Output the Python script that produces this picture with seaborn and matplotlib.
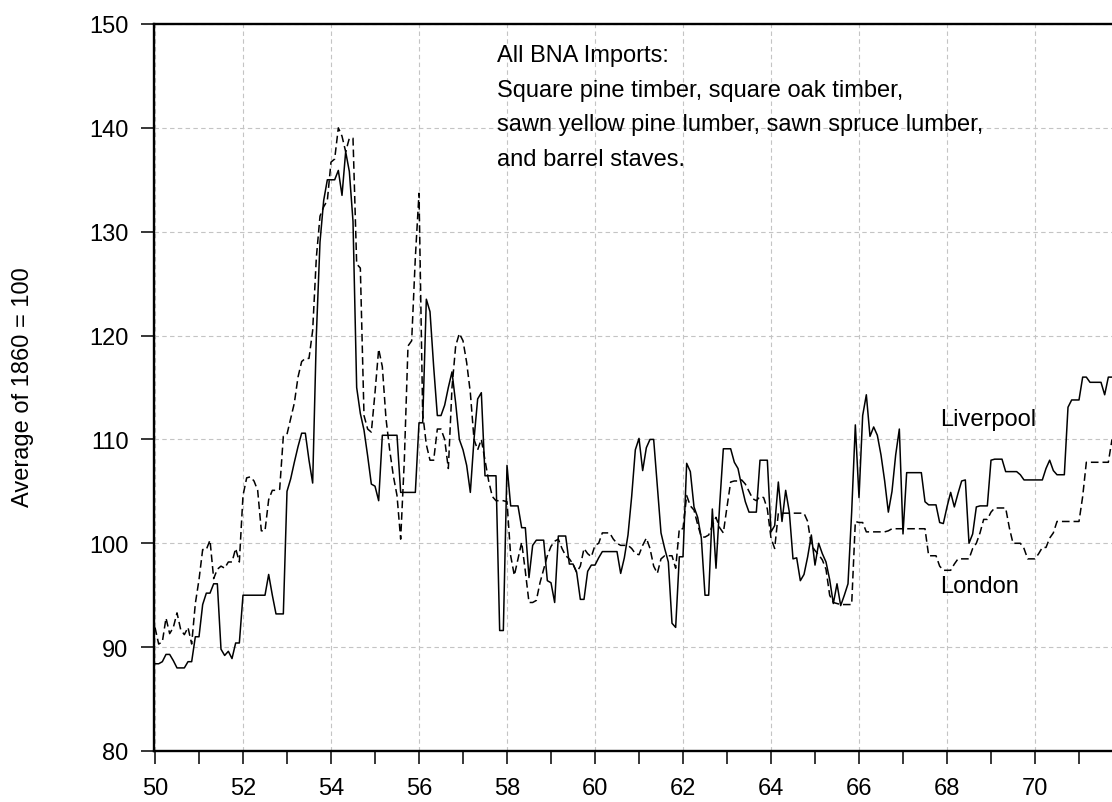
import numpy as np
import pandas as pd
import matplotlib
matplotlib.use("Agg")
import matplotlib.pyplot as plt
import seaborn as sns

# Monthly index values (average of 1860 = 100), Jan 1850 .. Oct 1871
liverpool = [
    88.4, 88.4, 88.6, 89.3, 89.3, 88.7, 88.0, 88.0, 88.0, 88.6, 88.6, 91.0,        # 1850
    91.0, 94.1, 95.2, 95.2, 96.1, 96.1, 89.8, 89.2, 89.6, 88.9, 90.4, 90.4,        # 1851
    95.0, 95.0, 95.0, 95.0, 95.0, 95.0, 95.0, 97.0, 95.0, 93.2, 93.2, 93.2,        # 1852
    105.0, 106.2, 107.8, 109.3, 110.6, 110.6, 108.0, 105.8, 120.0, 129.0, 133.0, 135.0,  # 1853
    135.0, 135.0, 135.9, 133.5, 137.7, 135.8, 131.0, 115.0, 112.5, 110.9, 108.4, 105.7,  # 1854
    105.5, 104.1, 110.4, 110.4, 110.4, 110.4, 110.4, 104.9, 104.9, 104.9, 104.9, 104.9,  # 1855
    111.6, 111.6, 123.5, 122.3, 117.0, 112.3, 112.3, 113.3, 115.0, 116.5, 113.5, 110.0,  # 1856
    109.0, 107.5, 104.9, 110.0, 113.9, 114.5, 106.5, 106.5, 106.5, 106.5, 91.6, 91.6,    # 1857
    107.5, 103.6, 103.6, 103.6, 101.5, 101.5, 96.7, 99.8, 100.3, 100.3, 100.3, 96.4,     # 1858
    96.2, 94.3, 100.7, 100.7, 100.7, 98.0, 98.0, 97.2, 94.6, 94.6, 97.3, 97.9,           # 1859
    97.9, 98.6, 99.2, 99.2, 99.2, 99.2, 99.2, 97.1, 98.6, 100.8, 104.5, 109.0,           # 1860
    110.1, 107.0, 109.2, 110.0, 110.0, 105.5, 101.0, 99.5, 98.2, 92.3, 91.9, 98.7,       # 1861
    98.7, 107.7, 106.9, 103.5, 102.5, 100.5, 95.0, 95.0, 103.3, 97.6, 103.7, 109.1,      # 1862
    109.1, 109.1, 107.8, 107.2, 105.5, 104.0, 103.0, 103.0, 103.0, 108.0, 108.0, 108.0,  # 1863
    101.1, 101.7, 105.9, 102.1, 105.1, 103.0, 98.5, 98.6, 96.4, 97.0, 98.7, 100.8,       # 1864
    97.9, 100.0, 99.0, 98.2, 96.5, 94.2, 96.1, 94.0, 95.0, 96.1, 103.0, 111.4,           # 1865
    104.4, 112.3, 114.3, 110.3, 111.2, 110.4, 108.5, 106.0, 103.0, 105.0, 108.5, 111.0,  # 1866
    100.9, 106.8, 106.8, 106.8, 106.8, 106.8, 104.0, 103.7, 103.7, 103.7, 102.0, 101.9,  # 1867
    103.5, 104.9, 103.5, 104.8, 106.0, 106.1, 100.0, 100.9, 103.5, 103.6, 103.6, 103.6,  # 1868
    108.0, 108.1, 108.1, 108.1, 106.9, 106.9, 106.9, 106.9, 106.6, 106.1, 106.1, 106.1,  # 1869
    106.1, 106.1, 106.1, 107.2, 108.0, 107.0, 106.6, 106.6, 106.6, 113.1, 113.8, 113.8,  # 1870
    113.8, 116.0, 116.0, 115.5, 115.5, 115.5, 115.5, 114.3, 116.0, 116.0,                # 1871
]

london = [
    91.9, 90.3, 90.5, 92.8, 91.3, 91.9, 93.3, 91.7, 91.2, 91.9, 90.3, 94.2,        # 1850
    96.5, 99.4, 99.4, 100.3, 96.6, 97.5, 97.8, 97.6, 98.2, 98.2, 99.5, 98.2,       # 1851
    104.6, 106.3, 106.4, 106.0, 105.1, 101.2, 101.2, 104.2, 105.1, 105.1, 105.2, 110.3,  # 1852
    110.5, 112.0, 113.5, 116.0, 117.5, 117.8, 117.8, 120.5, 127.5, 131.5, 132.4, 133.0,  # 1853
    136.7, 137.0, 140.0, 139.2, 137.7, 139.0, 139.0, 126.9, 126.5, 112.3, 111.0, 110.7,  # 1854
    114.5, 118.7, 117.0, 112.0, 109.0, 106.5, 104.6, 100.4, 108.0, 119.0, 119.5, 127.5,  # 1855
    133.7, 112.5, 109.5, 108.0, 108.0, 111.0, 111.0, 110.0, 107.2, 115.0, 119.0, 120.2,  # 1856
    119.5, 117.4, 114.5, 110.0, 109.0, 110.0, 108.0, 106.0, 104.5, 104.1, 104.1, 104.1,  # 1857
    104.0, 98.8, 96.9, 98.5, 100.1, 97.3, 94.3, 94.3, 94.5, 96.2, 97.5, 98.8,            # 1858
    99.7, 100.2, 100.4, 99.5, 98.8, 98.5, 98.0, 97.2, 97.8, 99.5, 99.0, 98.7,            # 1859
    99.8, 100.0, 101.0, 101.0, 101.0, 100.4, 100.0, 99.8, 99.8, 99.8, 99.5, 99.0,        # 1860
    98.9, 99.8, 100.5, 99.5, 97.8, 97.1, 98.5, 98.8, 98.8, 98.8, 97.6, 101.4,            # 1861
    101.4, 104.6, 103.6, 103.2, 101.8, 100.6, 100.6, 100.8, 101.7, 102.5, 101.5, 101.0,  # 1862
    103.5, 105.9, 106.0, 106.0, 106.1, 105.7, 105.0, 104.3, 104.1, 104.5, 104.4, 103.3,  # 1863
    100.5, 99.5, 102.9, 102.9, 102.9, 102.9, 102.9, 102.9, 102.9, 102.9, 102.1, 99.8,    # 1864
    99.3, 98.9, 98.4, 97.5, 95.0, 94.3, 94.2, 94.1, 94.1, 94.1, 94.1, 102.1,             # 1865
    102.0, 102.0, 101.1, 101.1, 101.1, 101.1, 101.1, 101.1, 101.2, 101.4, 101.4, 101.4,  # 1866
    101.4, 101.4, 101.4, 101.4, 101.4, 101.4, 101.4, 98.8, 98.8, 98.8, 97.8, 97.4,       # 1867
    97.4, 97.4, 98.0, 98.5, 98.5, 98.5, 98.5, 99.5, 100.0, 101.0, 102.3, 102.3,          # 1868
    103.0, 103.4, 103.4, 103.4, 103.4, 101.5, 100.0, 100.0, 100.0, 99.5, 98.5, 98.5,     # 1869
    98.5, 99.0, 99.6, 99.6, 100.5, 101.0, 102.1, 102.1, 102.1, 102.1, 102.1, 102.1,      # 1870
    102.1, 104.5, 107.8, 107.8, 107.8, 107.8, 107.8, 107.8, 107.8, 110.0,                # 1871
]

start_year = 50  # 1850, axis labelled in two digits
x_major = [50, 52, 54, 56, 58, 60, 62, 64, 66, 68, 70]
y_major = [80, 90, 100, 110, 120, 130, 140, 150]

note_lines = [
    "All BNA Imports:",
    "Square pine timber, square oak timber,",
    "sawn yellow pine lumber, sawn spruce lumber,",
    "and barrel staves.",
]
y_label = "Average of 1860 = 100"

# ---- data frame ----
n = len(liverpool)
yr = start_year + np.arange(n) / 12.0
df = pd.DataFrame({
    "year": np.concatenate([yr, yr]),
    "value": liverpool + london,
    "port": ["Liverpool"] * n + ["London"] * n,
})

sns.set_theme(style="white")
plt.rcParams["font.family"] = ["Liberation Sans", "DejaVu Sans"]
FS = 17

W, H = 1112, 803
fig = plt.figure(figsize=(W / 100, H / 100), dpi=100)
left_px, right_px, top_px, bot_px = 153.5, 1112, 25, 752
ax = fig.add_axes([left_px / W, 1 - bot_px / H, (right_px - left_px) / W, (bot_px - top_px) / H])

sns.lineplot(data=df, x="year", y="value", style="port",
             dashes={"Liverpool": "", "London": (5, 2.6)},
             color="black", linewidth=1.1, estimator=None, sort=False,
             legend=False, ax=ax)

px_per_year = 44.0
ax.set_xlim(50 - (155 - left_px) / px_per_year, 50 + (right_px - 155) / px_per_year)
ax.set_ylim(80, 150)
ax.set_xticks(x_major)
ax.set_xticks([v + 1 for v in x_major], minor=True)
ax.set_xticklabels([str(v) for v in x_major])
ax.set_yticks(y_major)
ax.set_yticklabels([str(v) for v in y_major])
ax.set_xlabel("")
ax.set_ylabel("")

ax.tick_params(axis="both", which="both", direction="out", length=9.5, width=1.1,
               color="black", labelsize=FS, labelcolor="black")
ax.tick_params(axis="x", which="both", bottom=True, pad=9)
ax.tick_params(axis="y", which="major", left=True, pad=8.5)

ax.grid(True, which="major", color="#c4c4c4", linestyle=(0, (4, 3)), linewidth=0.8)
ax.set_axisbelow(True)

for side in ["left", "bottom", "top"]:
    ax.spines[side].set_visible(True)
    ax.spines[side].set_color("black")
    ax.spines[side].set_linewidth(1.7)
ax.spines["right"].set_visible(False)

# annotation block
baselines = [62, 97, 131.5, 166]
for line, b in zip(note_lines, baselines):
    fig.text(497 / W, 1 - b / H, line, fontsize=FS, ha="left", va="baseline", color="black")

fig.text(940 / W, 1 - 426 / H, "Liverpool", fontsize=FS, ha="left", va="baseline", color="black")
fig.text(940 / W, 1 - 593 / H, "London", fontsize=FS, ha="left", va="baseline", color="black")

fig.text(23 / W, 1 - 387 / H, y_label, fontsize=FS, rotation=90, ha="center", va="center", color="black")

fig.savefig("out.png", dpi=100, facecolor="white")
